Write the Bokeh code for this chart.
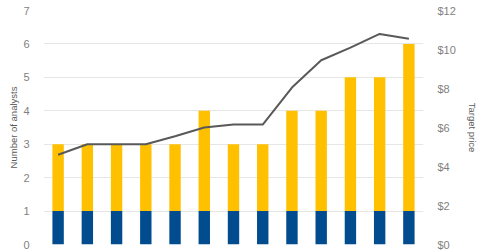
from bokeh.plotting import figure
from bokeh.models import Range1d, LinearAxis, FactorRange, ColumnDataSource, NumeralTickFormatter, FixedTicker
from bokeh.embed import file_html
from bokeh.resources import INLINE

categories = [str(i) for i in range(1, 14)]
blue_counts = [1, 1, 1, 1, 1, 1, 1, 1, 1, 1, 1, 1, 1]
yellow_counts = [2, 2, 2, 2, 2, 3, 2, 2, 3, 3, 4, 4, 5]
target_price = [4.6, 5.14, 5.14, 5.14, 5.55, 6.0, 6.15, 6.15, 8.05, 9.45, 10.1, 10.8, 10.55]

src = ColumnDataSource(dict(cat=categories, blue=blue_counts, yellow=yellow_counts, price=target_price))

p = figure(width=480, height=251, x_range=FactorRange(factors=categories, range_padding=0),
           y_range=Range1d(0, 7), output_backend="svg", toolbar_location=None,
           min_border_left=43, min_border_right=51, min_border_top=10, min_border_bottom=7)
p.extra_y_ranges = {"price": Range1d(0, 12)}

p.vbar_stack(["blue", "yellow"], x="cat", width=0.39, source=src,
             color=["#004C8E", "#FFC000"], line_color=None)
p.line(x="cat", y="price", source=src, y_range_name="price", line_color="#595959", line_width=2)

p.outline_line_color = None
p.xaxis.visible = False
p.xgrid.visible = False
p.ygrid.grid_line_color = "#E6E6E6"
p.ygrid.grid_line_width = 1

la = p.yaxis[0]
la.ticker = FixedTicker(ticks=[0, 1, 2, 3, 4, 5, 6, 7])
la.axis_label = "Number of analysts"

ra = LinearAxis(y_range_name="price", axis_label="Target price")
ra.ticker = FixedTicker(ticks=[0, 2, 4, 6, 8, 10, 12])
ra.formatter = NumeralTickFormatter(format="$0")
p.add_layout(ra, "right")

for ax in (la, ra):
    ax.axis_line_color = None
    ax.major_tick_line_color = None
    ax.minor_tick_line_color = None
    ax.major_label_text_font = "Liberation Sans"
    ax.major_label_text_font_size = "11px"
    ax.major_label_text_color = "#7F7F7F"
    ax.major_label_standoff = 8
    ax.axis_label_text_font = "Liberation Sans"
    ax.axis_label_text_font_size = "9.5px"
    ax.axis_label_text_font_style = "normal"
    ax.axis_label_text_color = "#595959"
la.axis_label_standoff = 1
ra.axis_label_standoff = 8

open("out.html", "w").write(file_html(p, INLINE))
